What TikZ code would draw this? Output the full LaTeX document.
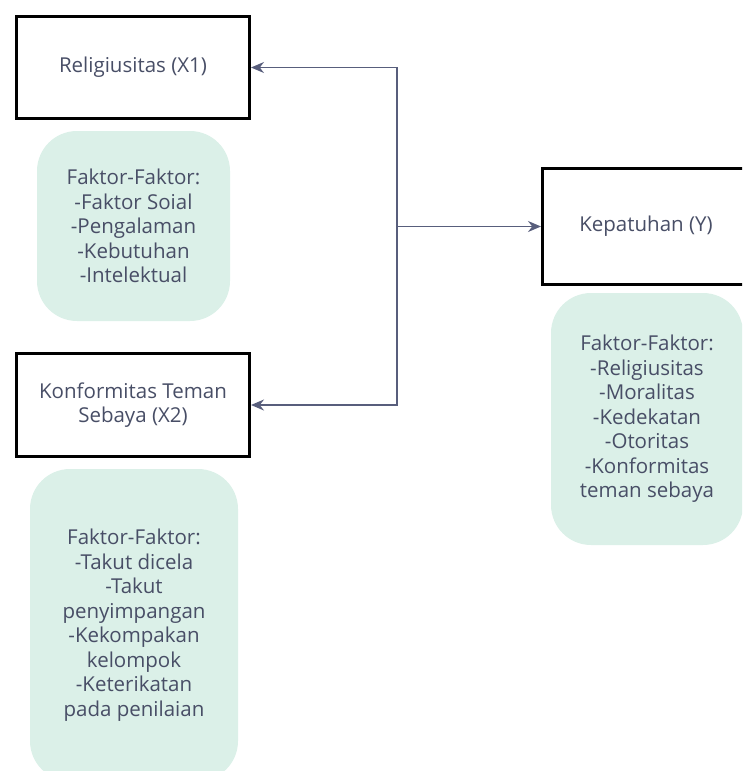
\documentclass[tikz,border=0pt]{standalone}
\usepackage{fontspec}
\setmainfont{Open Sans}
\usetikzlibrary{arrows.meta}
\definecolor{inkgray}{RGB}{72,78,102}
\definecolor{linegray}{RGB}{88,94,124}
\definecolor{mint}{RGB}{219,240,232}
\begin{document}
\begin{tikzpicture}[x=1pt, y=-1pt,
    every node/.style={font=\fontsize{20.5}{24.5}\selectfont, text=inkgray, align=center},
    varbox/.style={draw=black, line width=3pt, minimum width=233pt},
    factbox/.style={fill=mint, rounded corners=40pt},
    conn/.style={draw=linegray, line width=1.4pt, -{Stealth[length=13pt, width=11pt]}}]
  \useasboundingbox (0,0) rectangle (742,771);
  \clip (0,0) rectangle (742,771);
  % variable boxes
  \node[varbox, minimum height=102pt] (x1) at (133,67.5) {Religiusitas (X1)};
  \node[varbox, minimum height=103pt] (x2) at (133,405) {Konformitas Teman\\Sebaya (X2)};
  \node[varbox, minimum width=207pt, minimum height=116pt] (y) at (646,226.5) {Kepatuhan (Y)};
  % factor boxes
  \node[factbox, minimum width=193pt, minimum height=190pt] (f1) at (133.5,226) {Faktor-Faktor:\\-Faktor Soial\\-Pengalaman\\-Kebutuhan\\-Intelektual};
  \node[factbox, minimum width=208pt, minimum height=312pt] (f2) at (134,625) {Faktor-Faktor:\\-Takut dicela\\-Takut\\penyimpangan\\-Kekompakan\\kelompok\\-Keterikatan\\pada penilaian};
  \node[factbox, minimum width=192pt, minimum height=252pt] (f3) at (647,419) {Faktor-Faktor:\\-Religiusitas\\-Moralitas\\-Kedekatan\\-Otoritas\\-Konformitas\\teman sebaya};
  % connectors
  \coordinate (hub) at (397,226.5);
  \draw[conn] (hub) |- (x1.east);
  \draw[conn] (hub) |- (x2.east);
  \draw[conn] (hub) -- (y.west);
\end{tikzpicture}
\end{document}
